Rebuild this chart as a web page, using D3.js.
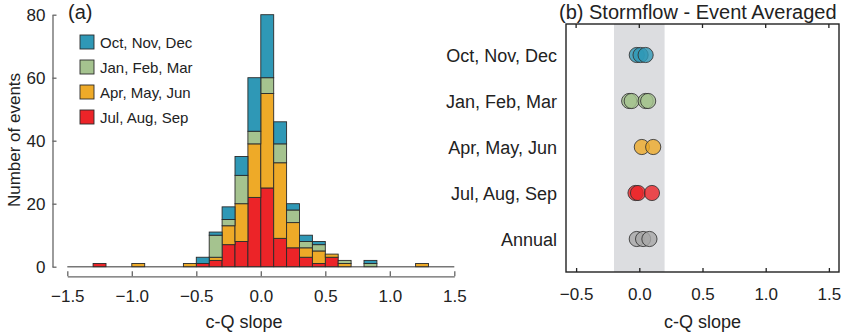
<!DOCTYPE html>
<html>
<head>
<meta charset="utf-8">
<script src="https://cdn.jsdelivr.net/npm/d3@7"></script>
<style>
  body { margin: 0; background: #fff; }
  svg text { font-family: "Liberation Sans", Arial, sans-serif; fill: #222; }
</style>
</head>
<body>
<svg id="chart" width="850" height="332"></svg>
<script>
// histogram bins (left edges, width 0.1)
const binStarts = [-1.3, -1.0, -0.6, -0.5, -0.4, -0.3, -0.2, -0.1, 0.0, 0.1, 0.2, 0.3, 0.4, 0.5, 0.6, 0.8, 1.2];
const julSep = [1, 0, 0, 1, 2, 7, 8, 22, 25, 9, 6, 3, 1, 3, 0, 0, 0];
const aprJun = [0, 1, 1, 0, 1, 6, 12, 17, 30, 24, 8, 3, 4, 1, 1, 0, 1];
const janMar = [0, 0, 0, 0, 7, 2, 9, 4, 5, 6, 4, 2, 2, 0, 1, 1, 0];
const octDec = [0, 0, 0, 2, 1, 4, 6, 17, 20, 7, 2, 2, 1, 0, 0, 1, 0];

const seasons = ['Oct, Nov, Dec', 'Jan, Feb, Mar', 'Apr, May, Jun', 'Jul, Aug, Sep'];
const seasonColors = ['#2f98b6', '#a5c38f', '#eeaa28', '#ec2428'];
const stackOrder = ['julSep', 'aprJun', 'janMar', 'octDec'];

// panel (b) event averaged slopes
const rowLabels = ['Oct, Nov, Dec', 'Jan, Feb, Mar', 'Apr, May, Jun', 'Jul, Aug, Sep', 'Annual'];
const rowColors = ['#2f98b6', '#a5c38f', '#eeaa28', '#ec2428', '#a8a8a8'];
const octPts = [-0.02, 0.01, 0.05];
const janPts = [-0.08, -0.06, 0.05, 0.07];
const aprPts = [0.02, 0.11];
const julPts = [-0.03, -0.01, 0.10];
const annPts = [-0.02, 0.03, 0.08];
const bandRange = [-0.2, 0.2];

const xTicks = [-1.5, -1.0, -0.5, 0.0, 0.5, 1.0, 1.5];
const yTicks = [0, 20, 40, 60, 80];
const bTicks = [-0.5, 0.0, 0.5, 1.0, 1.5];

const svg = d3.select('#chart');
const fmt = d => d3.format('.1f')(d).replace('-', '\u2212');

// ---------- panel (a) ----------
const x = d3.scaleLinear().domain([-1.5, 1.5]).range([67.3, 454.3]);
const y = d3.scaleLinear().domain([0, 80]).range([266.7, 14.7]);

const rows = binStarts.map((b, i) => ({
    bin: b, julSep: julSep[i], aprJun: aprJun[i], janMar: janMar[i], octDec: octDec[i]
}));
const stacked = d3.stack().keys(stackOrder)(rows);
const colorOf = { julSep: seasonColors[3], aprJun: seasonColors[2], janMar: seasonColors[1], octDec: seasonColors[0] };

// zero baseline
svg.append('line')
    .attr('x1', x(-1.5)).attr('x2', x(1.5))
    .attr('y1', y(0)).attr('y2', y(0))
    .attr('stroke', '#777').attr('stroke-width', 1.5);

svg.append('g').selectAll('g')
    .data(stacked)
    .join('g')
    .attr('fill', d => colorOf[d.key])
    .selectAll('rect')
    .data(d => d.filter(s => s[1] - s[0] > 0))
    .join('rect')
    .attr('x', d => x(d.data.bin))
    .attr('width', d => x(d.data.bin + 0.1) - x(d.data.bin))
    .attr('y', d => y(d[1]))
    .attr('height', d => y(d[0]) - y(d[1]))
    .attr('stroke', '#2a2a2a')
    .attr('stroke-width', 0.9);

const yAxis = svg.append('g')
    .attr('transform', 'translate(52.5,0)')
    .call(d3.axisLeft(y).tickValues(yTicks).tickSize(-4).tickSizeOuter(0).tickPadding(7).tickFormat(d3.format('d')));
const xAxis = svg.append('g')
    .attr('transform', 'translate(0,276.3)')
    .call(d3.axisBottom(x).tickValues(xTicks).tickSize(-5).tickSizeOuter(0).tickPadding(14).tickFormat(fmt));
[yAxis, xAxis].forEach(g => {
    g.selectAll('path, line').attr('stroke', '#666').attr('stroke-width', 1.3);
    g.selectAll('text').style('font-size', '17px').attr('fill', '#222');
});

svg.append('text')
    .attr('transform', 'translate(20,140) rotate(-90)')
    .attr('text-anchor', 'middle')
    .style('font-size', '17px')
    .text('Number of events');
svg.append('text')
    .attr('x', 244).attr('y', 328)
    .attr('text-anchor', 'middle')
    .style('font-size', '18px')
    .text('c-Q slope');
svg.append('text')
    .attr('x', 68).attr('y', 19)
    .style('font-size', '20px')
    .text('(a)');

// legend
const legend = svg.append('g').selectAll('g')
    .data(seasons)
    .join('g')
    .attr('transform', (d, i) => `translate(80,${42 + i * 25})`);
legend.append('rect')
    .attr('x', 0).attr('y', -7).attr('width', 14).attr('height', 14)
    .attr('fill', (d, i) => seasonColors[i])
    .attr('stroke', '#2a2a2a').attr('stroke-width', 0.9);
legend.append('text')
    .attr('x', 20).attr('y', 5.5)
    .style('font-size', '15px')
    .text(d => d);

// ---------- panel (b) ----------
const xb = d3.scaleLinear().domain([-0.58, 1.58]).range([566, 839]);
const yb = d3.scalePoint().domain(rowLabels).range([55, 239]);
const boxTop = 24, boxBottom = 272;

svg.append('rect')
    .attr('x', xb(bandRange[0])).attr('y', boxTop)
    .attr('width', xb(bandRange[1]) - xb(bandRange[0]))
    .attr('height', boxBottom - boxTop)
    .attr('fill', '#dcdde0');

const pointSets = [octPts, janPts, aprPts, julPts, annPts];
pointSets.forEach((pts, i) => {
    svg.append('g').selectAll('circle')
        .data(pts)
        .join('circle')
        .attr('cx', d => xb(d))
        .attr('cy', yb(rowLabels[i]))
        .attr('r', 7.6)
        .attr('fill', rowColors[i])
        .attr('fill-opacity', 0.8)
        .attr('stroke', '#333')
        .attr('stroke-opacity', 0.85)
        .attr('stroke-width', 1);
});

svg.append('rect')
    .attr('x', 566).attr('y', boxTop)
    .attr('width', 839 - 566).attr('height', boxBottom - boxTop)
    .attr('fill', 'none').attr('stroke', '#222').attr('stroke-width', 1.4);

const bAxis = svg.append('g')
    .attr('transform', `translate(0,${boxBottom})`)
    .call(d3.axisBottom(xb).tickValues(bTicks).tickSize(-4).tickSizeOuter(0).tickPadding(16).tickFormat(fmt));
bAxis.select('.domain').remove();
bAxis.selectAll('line').attr('stroke', '#222').attr('stroke-width', 1.3);
bAxis.selectAll('text').style('font-size', '17px').attr('fill', '#222');

svg.append('g').selectAll('line')
    .data(bTicks)
    .join('line')
    .attr('x1', d => xb(d)).attr('x2', d => xb(d))
    .attr('y1', boxTop).attr('y2', boxTop + 4)
    .attr('stroke', '#222').attr('stroke-width', 1.3);

svg.append('g').selectAll('text')
    .data(rowLabels)
    .join('text')
    .attr('x', 557)
    .attr('y', d => yb(d) + 6.5)
    .attr('text-anchor', 'end')
    .style('font-size', '18px')
    .text(d => d);

svg.append('text')
    .attr('x', 702.5).attr('y', 328)
    .attr('text-anchor', 'middle')
    .style('font-size', '18px')
    .text('c-Q slope');
svg.append('text')
    .attr('x', 559).attr('y', 19)
    .style('font-size', '20px')
    .text('(b) Stormflow - Event Averaged');
</script>
</body>
</html>
